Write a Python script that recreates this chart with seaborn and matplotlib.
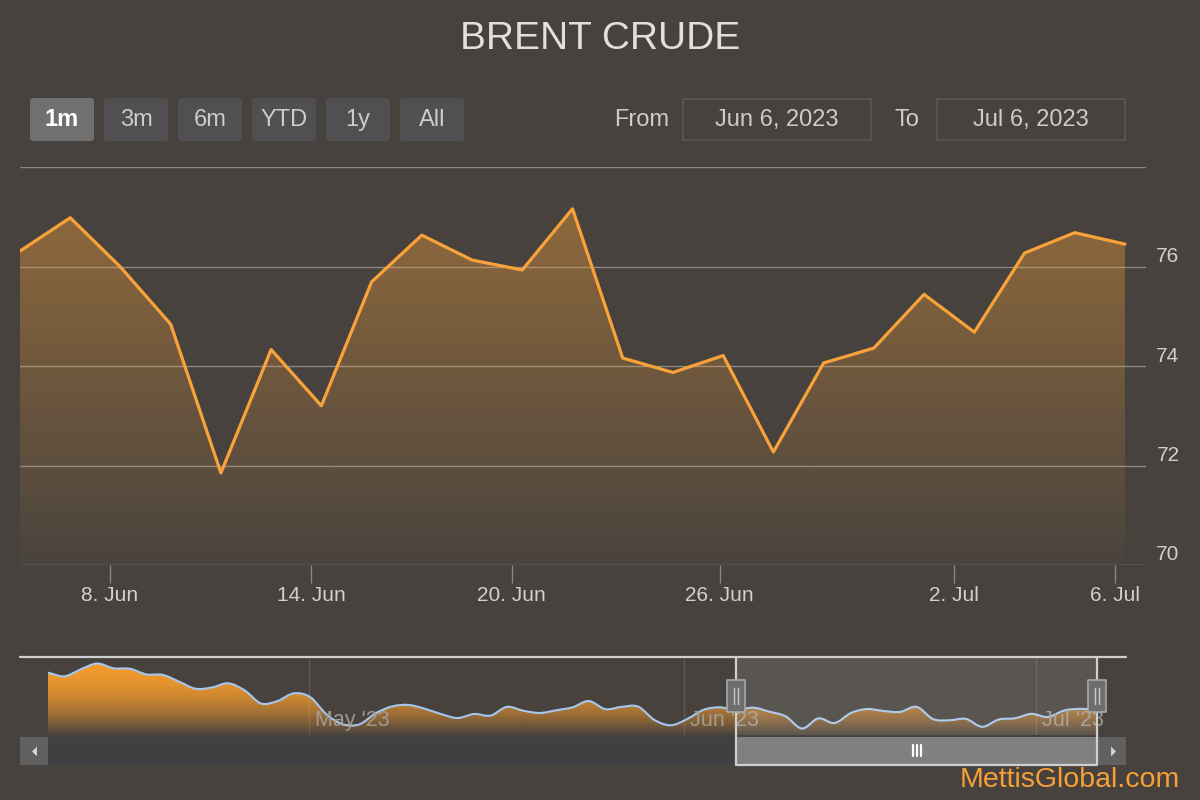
import numpy as np
import pandas as pd
import matplotlib
matplotlib.use('Agg')
import matplotlib.pyplot as plt
import matplotlib.patches as patches
import matplotlib.transforms as mtransforms
from matplotlib.path import Path
from matplotlib.colors import to_rgb
import seaborn as sns

# --- data ---
main_dates = pd.bdate_range('2023-06-06', '2023-07-06')
main_values = [76.31, 76.98, 75.99, 74.84, 71.85, 74.33, 73.20, 75.69, 76.63, 76.13,
               75.93, 77.16, 74.16, 73.87, 74.21, 72.27, 74.06, 74.36, 75.44, 74.68,
               76.27, 76.68, 76.45]

# earlier history only visible in the navigator
early_dates = pd.bdate_range('2023-04-06', '2023-06-05').drop(pd.Timestamp('2023-04-07'))
early_values = [85.56, 84.65, 86.37, 87.80, 86.61, 86.51, 85.13, 85.01, 83.35, 81.61,
                81.92, 82.94, 81.20, 77.99, 78.59, 80.49, 79.54, 75.25, 72.87, 72.87,
                75.61, 77.28, 77.63, 76.68, 75.37, 74.42, 75.42, 75.02, 77.16, 76.21,
                75.66, 76.32, 77.04, 78.59, 76.61, 77.16, 77.23, 73.94, 72.64, 74.18,
                76.44, 77.04]

x_tick_dates = ['2023-06-08', '2023-06-14', '2023-06-20', '2023-06-26', '2023-07-02', '2023-07-06']
x_tick_labels = ['8. Jun', '14. Jun', '20. Jun', '26. Jun', '2. Jul', '6. Jul']
y_ticks = [70, 72, 74, 76, 78]
y_tick_labels = ['70', '72', '74', '76', '']
nav_month_dates = ['2023-05-01', '2023-06-01', '2023-07-01']
nav_month_labels = ["May '23", "Jun '23", "Jul '23"]
range_buttons = ['1m', '3m', '6m', 'YTD', '1y', 'All']
selected_button = '1m'

BG = '#47423e'
ORANGE = '#f9a23a'
TXT = '#d0d0d0'
GRID = '#8c8782'

sns.set_theme(style='dark', rc={'axes.facecolor': BG, 'figure.facecolor': BG})
plt.rcParams['font.family'] = ['Liberation Sans', 'DejaVu Sans']

# ordinal positions (points stamped at 05:00 like the source)
main_df = pd.DataFrame({'date': main_dates + pd.Timedelta(hours=5), 'close': main_values})
main_df['pos'] = np.arange(len(main_df))
nav_df = pd.DataFrame({'date': early_dates.append(main_dates) + pd.Timedelta(hours=5),
                       'close': early_values + main_values})
nav_df['pos'] = np.arange(len(nav_df))


def to_pos(dates, df):
    t = pd.to_datetime(dates).asi8
    return np.interp(t, df['date'].values.astype('int64'), df['pos'].values)


def spline_path(x, y, base=None):
    # cubic bezier through the points (areaspline look of the navigator)
    x = np.asarray(x, float)
    y = np.asarray(y, float)
    slope = np.gradient(y, x)
    verts = [(x[0], y[0])]
    codes = [Path.MOVETO]
    for i in range(len(x) - 1):
        d = (x[i + 1] - x[i]) / 3
        verts += [(x[i] + d, y[i] + slope[i] * d), (x[i + 1] - d, y[i + 1] - slope[i + 1] * d),
                  (x[i + 1], y[i + 1])]
        codes += [Path.CURVE4] * 3
    if base is not None:
        verts += [(x[-1], base), (x[0], base), (x[0], y[0])]
        codes += [Path.LINETO, Path.LINETO, Path.CLOSEPOLY]
    return Path(verts, codes)


fig = plt.figure(figsize=(12, 8), dpi=100)
fig.patch.set_facecolor(BG)

# ---------------- main chart ----------------
ax = fig.add_axes([20 / 1200, 235 / 800, 1126 / 1200, 398 / 800])
ax.set_facecolor(BG)
n = len(main_df) - 1
xmax = n + 21 / 50.2

fill = ax.fill_between(main_df['pos'], main_df['close'], 70, color='none', lw=0)
grad = np.zeros((256, 1, 4))
grad[..., :3] = to_rgb(ORANGE)
grad[:, 0, 3] = np.linspace(0.02, 0.45, 256)
im = ax.imshow(grad, extent=[0, n, 70, 78], origin='lower', aspect='auto', zorder=1)
im.set_clip_path(fill.get_paths()[0], transform=ax.transData)

sns.lineplot(data=main_df, x='pos', y='close', ax=ax, color=ORANGE, lw=2.3, zorder=3)

ax.set_xlim(0, xmax)
ax.set_ylim(70, 78)
ax.set_yticks(y_ticks)
ax.set_xticks(to_pos(x_tick_dates, main_df))
ax.set_xticklabels(x_tick_labels, color=TXT, fontsize=15)
ax.tick_params(axis='x', bottom=True, length=13, width=1, color=GRID, pad=2)
ax.tick_params(axis='y', length=0, labelleft=False)
ax.grid(axis='y', color=GRID, lw=1)
ax.grid(axis='x', visible=False)
ax.set_xlabel('')
ax.set_ylabel('')
for s in ax.spines.values():
    s.set_visible(False)
lab_tr = mtransforms.offset_copy(ax.get_yaxis_transform(), fig=fig, y=10, units='dots')
for v, t in zip(y_ticks, y_tick_labels):
    ax.text(1.0195, v, t, transform=lab_tr, ha='center', va='center', color=TXT, fontsize=15)

# ---------------- navigator ----------------
nav = fig.add_axes([20 / 1200, 65 / 800, 1106 / 1200, 78 / 800])
nav.set_facecolor(BG)
m = len(nav_df) - 1
step = 1049 / m
nx0, nx1 = -28 / step, m + 29 / step
vmin, vmax = nav_df['close'].min(), nav_df['close'].max()
pad = 0.1 * (vmax - vmin)
ny0, ny1 = vmin - pad, vmax + pad

area = patches.PathPatch(spline_path(nav_df['pos'], nav_df['close'], base=ny0),
                         facecolor='none', lw=0)
nav.add_patch(area)
s_ = np.linspace(0, 1, 256)
ngrad = np.zeros((256, 1, 4))
ngrad[..., :3] = to_rgb('#f39b2e')
ngrad[:, 0, 3] = 1 - (1 - s_) ** 2
nim = nav.imshow(ngrad, extent=[0, m, ny0, vmax], origin='lower', aspect='auto', zorder=1)
nim.set_clip_path(area)
nav.add_patch(patches.PathPatch(spline_path(nav_df['pos'], nav_df['close']), facecolor='none',
                                edgecolor='#a6c7ed', lw=1.5, zorder=3))

nav.set_xlim(nx0, nx1)
nav.set_ylim(ny0, ny1)
month_pos = to_pos(nav_month_dates, nav_df)
nav.set_xticks(month_pos)
nav.set_yticks([])
nav.tick_params(axis='x', length=0, labelbottom=False)
nav.grid(axis='x', color='#5e5954', lw=1)
nav.grid(axis='y', visible=False)
for s in nav.spines.values():
    s.set_visible(False)
mtr = mtransforms.offset_copy(nav.get_xaxis_transform(), fig=fig, x=6, units='dots')
for p, t in zip(month_pos, nav_month_labels):
    nav.text(p, 0.19, t, transform=mtr, ha='left', va='center', color='#a7a19b',
             fontsize=15.5, alpha=0.9, zorder=4)

# selected range mask
sel0, sel1 = main_df['pos'].iloc[0] + 42, main_df['pos'].iloc[-1] + 42
nav.add_patch(patches.Rectangle((sel0, 0), sel1 - sel0, 1, transform=nav.get_xaxis_transform(),
                                facecolor='white', alpha=0.1, lw=0, zorder=5))
fy = mtransforms.blended_transform_factory(nav.transData, fig.transFigure)
y_top, y_bot, y_sb = 143 / 800, 35 / 800, 63 / 800

# ---------------- ui overlay (pixel coords) ----------------
ui = fig.add_axes([0, 0, 1, 1], zorder=10)
ui.set_xlim(0, 1200)
ui.set_ylim(800, 0)
ui.axis('off')
ui.patch.set_alpha(0)

# scrollbar track and arrow buttons
ui.add_patch(patches.Rectangle((48, 737), 1050, 28, facecolor='#404043', lw=0))
ui.add_patch(patches.Rectangle((20, 737), 28, 28, facecolor='#606060', lw=0))
ui.add_patch(patches.Rectangle((1098, 737), 28, 28, facecolor='#606060', lw=0))
left_arrow = Path([(-2, 0), (2, -4), (2, 4), (-2, 0)])
right_arrow = Path([(2, 0), (-2, -4), (-2, 4), (2, 0)])
ui.plot([33.5], [751], marker=left_arrow, ms=7, color='#d8d8d8', mew=0)
ui.plot([1112.5], [751], marker=right_arrow, ms=7, color='#d8d8d8', mew=0)

# thumb
ui.add_patch(patches.Rectangle((sel0, y_bot), sel1 - sel0, y_sb - y_bot, transform=fy,
                               facecolor='#808080', lw=0, zorder=11))
mid = (sel0 + sel1) / 2
for dx in (-4, 0, 4):
    tr = fy + mtransforms.ScaledTranslation(dx / 100, 0, fig.dpi_scale_trans)
    ui.plot([mid, mid], [55 / 800, 44 / 800], transform=tr, color='white', lw=1.6, zorder=12)

# outline
ui.plot([nx0, nx1], [y_top, y_top], transform=fy, color='#cfcfcf', lw=1.6, zorder=12, clip_on=False)
ui.plot([sel0, sel0, sel1, sel1], [y_top, y_bot, y_bot, y_top], transform=fy,
        color='#cfcfcf', lw=1.6, zorder=12, clip_on=False)

# handles
handle = Path([(-9, -16), (9, -16), (9, 16), (-9, 16), (-9, -16)])
for hx in (sel0, sel1):
    ui.plot([hx], [104 / 800], transform=fy, marker=handle, ms=23, mfc='#6e6e6e',
            mec='#a8a8a8', mew=1.2, zorder=13)
    for dx in (-2, 2):
        tr = fy + mtransforms.ScaledTranslation(dx / 100, 0, fig.dpi_scale_trans)
        ui.plot([hx, hx], [112 / 800, 96 / 800], transform=tr, color='#c8c8c8', lw=1, zorder=14)

# title
ui.text(600, 39, 'BRENT CRUDE', ha='center', va='center', color='#e0e0e0', fontsize=28)

# range selector buttons
for i, lab in enumerate(range_buttons):
    x0 = 30 + i * 74
    sel = lab == selected_button
    ui.add_patch(patches.FancyBboxPatch((x0, 98), 64, 43, boxstyle='round,pad=0,rounding_size=3',
                                        facecolor='#707070' if sel else '#505053', lw=0))
    ui.text(x0 + 32, 120, lab, ha='center', va='center', fontsize=17,
            color='white' if sel else '#cccccc', fontweight='bold' if sel else 'normal')

# date inputs
ui.text(642, 120, 'From', ha='center', va='center', fontsize=17, color='#cccccc')
ui.text(907, 120, 'To', ha='center', va='center', fontsize=17, color='#cccccc')
for x0, lab in [(683, 'Jun 6, 2023'), (937, 'Jul 6, 2023')]:
    ui.add_patch(patches.Rectangle((x0, 99), 188, 41, facecolor='none', edgecolor='#5c5752', lw=1.2))
    ui.text(x0 + 94, 120, lab, ha='center', va='center', fontsize=17, color='#cccccc')

# watermark
ui.text(1180, 780, 'MettisGlobal.com', ha='right', va='center', fontsize=20.5, color='#f7a035')

fig.savefig('out.png', dpi=100, facecolor=BG)
